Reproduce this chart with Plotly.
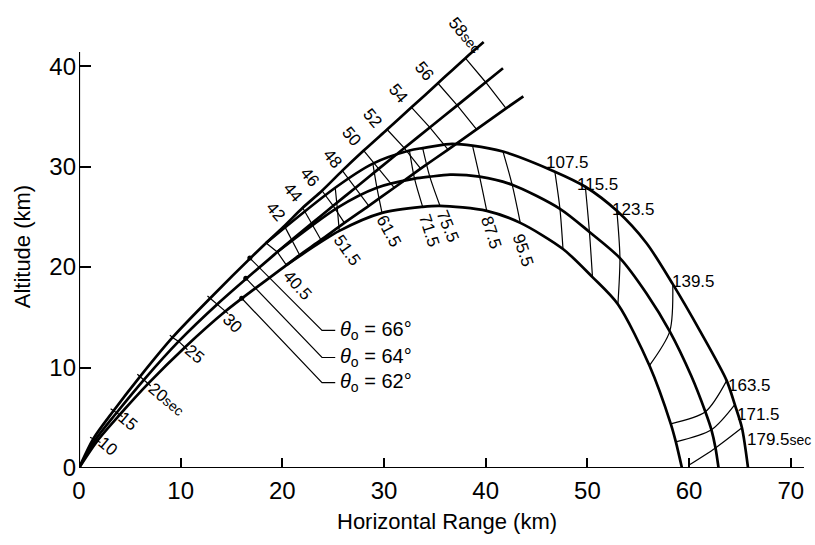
import plotly.graph_objects as go

# ---------------- DATA (km) ----------------
# time marks along the powered ascent and the straight continuation
ASC_TIMES = [10, 15, 20, 25, 30, 40.5, 42, 44, 46, 48, 50, 52, 54, 56, 58]
ASC66_X = [1.4, 3.4, 6.0, 9.2, 12.9, 18.4, 20.2, 22.0, 23.9, 25.9, 28.0, 30.3, 32.7, 35.3, 38.0]
ASC66_Y = [2.9, 5.7, 9.1, 13.0, 16.9, 22.4, 24.1, 25.9, 27.6, 29.6, 31.6, 33.7, 35.9, 38.3, 40.8]
ASC64_X = [1.6, 3.7, 6.4, 9.8, 13.6, 19.5, 20.9, 22.9, 25.0, 27.2, 29.5, 32.0, 34.5, 37.2, 40.0]
ASC64_Y = [2.8, 5.5, 8.8, 12.6, 16.3, 21.5, 22.7, 24.35, 26.1, 27.9, 29.8, 31.85, 33.9, 36.1, 38.4]
ASC62_X = [1.8, 4.0, 6.8, 10.4, 14.4, 20.4, 21.7, 23.8, 26.1, 28.5, 31.0, 33.6, 36.3, 39.1, 42.0]
ASC62_Y = [2.7, 5.3, 8.4, 12.0, 15.6, 20.2, 21.2, 22.7, 24.4, 26.1, 27.9, 29.8, 31.7, 33.7, 35.8]
LINE_END_X = [39.8, 41.7, 43.7]
LINE_END_Y = [42.4, 39.8, 37.0]

# time marks along the ballistic arcs
ARC_TIMES = [51.5, 61.5, 71.5, 75.5, 87.5, 95.5, 107.5, 115.5, 123.5, 139.5, 163.5, 171.5, 179.5]
ARC66_X = [25.2, 28.9, 32.5, 33.8, 38.7, 41.7, 46.8, 49.8, 52.9, 58.4, 63.7, 64.5, 65.2]
ARC66_Y = [27.9, 30.3, 31.6, 31.85, 32.1, 31.5, 29.5, 28.0, 25.6, 18.3, 8.7, 6.3, 4.0]
ARC64_X = [25.4, 29.3, 33.0, 34.5, 39.4, 42.6, 47.3, 50.2, 53.2, 58.1, 61.6, 62.2, 62.6]
ARC64_Y = [25.9, 27.9, 28.8, 29.0, 29.0, 28.2, 25.8, 23.5, 20.9, 13.6, 5.6, 3.8, 2.0]
ARC62_X = [25.6, 29.8, 33.8, 35.5, 40.1, 43.4, 47.6, 50.5, 53.0, 56.1, 58.2, 58.7, 60.0]
ARC62_Y = [23.6, 25.4, 26.0, 26.1, 25.6, 24.4, 21.8, 19.0, 16.3, 10.2, 4.4, 2.6, 0.3]
# additional shape points of the arcs (apex, descent, impact)
ARC66_EXTRA_X = [36.4, 55.8, 61.1, 65.8]
ARC66_EXTRA_Y = [32.25, 22.4, 13.6, 0.0]
ARC64_EXTRA_X = [36.5, 55.8, 60.2, 62.9]
ARC64_EXTRA_Y = [29.2, 17.4, 9.2, 0.0]
ARC62_EXTRA_X = [59.3]
ARC62_EXTRA_Y = [0.0]

ANGLES = ["66", "64", "62"]
POINTER_X = [16.8, 16.4, 16.0]
POINTER_Y = [20.9, 18.9, 16.9]

X_TICKS = [0, 10, 20, 30, 40, 50, 60, 70]
Y_TICKS = [0, 10, 20, 30, 40]

ASC_LABELS = ["10", "15", "20sec", "25", "30", "40.5", "42", "44", "46", "48",
              "50", "52", "54", "56", "58sec"]
ARC_LABELS = ["51.5", "61.5", "71.5", "75.5", "87.5", "95.5", "107.5", "115.5",
              "123.5", "139.5", "163.5", "171.5", "179.5sec"]

# ---------------- label placement ----------------
ASC_LAB_X = [2.85, 4.8, 8.6, 11.4, 15.1, 21.5, 19.3, 21.0, 22.7, 24.9, 26.8, 28.9, 31.4, 34.0, 38.0]
ASC_LAB_Y = [2.1, 4.6, 6.8, 11.3, 14.4, 18.2, 25.5, 27.4, 28.9, 30.8, 33.0, 34.8, 37.3, 39.5, 43.1]
ASC_LAB_ANG = [40, 40, 40, 40, 45, 48, 50, 50, 50, 50, 50, 50, 50, 50, 50]
ARC_LAB_X = [26.4, 30.4, 34.4, 36.2, 40.5, 43.7, 48.0, 51.0, 54.5, 60.4, 65.9, 66.8, 68.8]
ARC_LAB_Y = [21.7, 23.6, 23.6, 24.1, 23.4, 21.7, 30.4, 28.2, 25.7, 18.6, 8.2, 5.3, 2.8]
ARC_LAB_ANG = [55, 62, 72, 68, 72, 72, 0, 0, 0, 0, 0, 0, 0]

FONT = "Liberation Sans"
fig = go.Figure()


def add(x, y, width, shape="spline"):
    fig.add_trace(go.Scatter(x=x, y=y, mode="lines", hoverinfo="skip", showlegend=False,
                             line=dict(color="black", width=width, shape=shape, smoothing=0.8)))


def fmt(label, size):
    if label.endswith("sec"):
        return label[:-3] + f"<span style='font-size:{size - 3}px'>sec</span>"
    return label


asc_x = [ASC66_X, ASC64_X, ASC62_X]
asc_y = [ASC66_Y, ASC64_Y, ASC62_Y]
arc_x = [ARC66_X, ARC64_X, ARC62_X]
arc_y = [ARC66_Y, ARC64_Y, ARC62_Y]
ext_x = [ARC66_EXTRA_X, ARC64_EXTRA_X, ARC62_EXTRA_X]
ext_y = [ARC66_EXTRA_Y, ARC64_EXTRA_Y, ARC62_EXTRA_Y]
burn = ASC_TIMES.index(40.5)

# ascent + straight continuation
for k in range(3):
    add([0] + asc_x[k] + [LINE_END_X[k]], [0] + asc_y[k] + [LINE_END_Y[k]], 2.7)

# ballistic arcs branching at burnout
for k in range(3):
    land = ext_x[k][-1]
    pts = [(x, y) for x, y in zip(arc_x[k], arc_y[k]) if x < land]
    pts += list(zip(ext_x[k], ext_y[k]))
    pts.sort()
    xs = [asc_x[k][burn]] + [p[0] for p in pts]
    ys = [asc_y[k][burn]] + [p[1] for p in pts]
    add(xs, ys, 2.7)

# isochrones across the ascent curves
for i, t in enumerate(ASC_TIMES):
    xs = [asc_x[k][i] for k in range(3)]
    ys = [asc_y[k][i] for k in range(3)]
    if t <= 30:
        dx, dy = xs[2] - xs[0], ys[2] - ys[0]
        n = (dx * dx + dy * dy) ** 0.5
        e = 0.35
        xs = [xs[0] - e * dx / n] + xs + [xs[2] + e * dx / n]
        ys = [ys[0] - e * dy / n] + ys + [ys[2] + e * dy / n]
    add(xs, ys, 1.2, shape="linear")

# isochrones across the arcs
for i, t in enumerate(ARC_TIMES):
    add([arc_x[k][i] for k in range(3)], [arc_y[k][i] for k in range(3)], 1.2)

# theta_0 leaders
TH_Y = [13.7, 11.0, 8.5]
for k in range(3):
    add([25.2, 23.9, POINTER_X[k]], [TH_Y[k], TH_Y[k], POINTER_Y[k]], 1.2, shape="linear")
fig.add_trace(go.Scatter(x=POINTER_X, y=POINTER_Y, mode="markers", hoverinfo="skip",
                         showlegend=False, marker=dict(color="black", size=5)))

# axes drawn as lines
add([0, 71.3], [0, 0], 2.2, shape="linear")
add([0, 0], [0, 41.4], 2.2, shape="linear")

ann = []
for lab, x, y, a in zip(ASC_LABELS, ASC_LAB_X, ASC_LAB_Y, ASC_LAB_ANG):
    ann.append(dict(x=x, y=y, text=fmt(lab, 17), textangle=a, showarrow=False,
                    font=dict(size=17, family=FONT, color="black")))
for lab, x, y, a in zip(ARC_LABELS, ARC_LAB_X, ARC_LAB_Y, ARC_LAB_ANG):
    ann.append(dict(x=x, y=y, text=fmt(lab, 17), textangle=a, showarrow=False,
                    font=dict(size=17, family=FONT, color="black")))
for k in range(3):
    ann.append(dict(x=25.5, y=TH_Y[k], xanchor="left", showarrow=False,
                    text=f"<i>θ</i><sub>o</sub> = {ANGLES[k]}°",
                    font=dict(size=20, family=FONT, color="black")))
ann.append(dict(xref="paper", yref="paper", x=-0.078, y=0.50, xanchor="center",
                yanchor="middle", text="Altitude (km)", textangle=-90, showarrow=False,
                font=dict(size=22, family=FONT, color="black")))
ann.append(dict(xref="paper", yref="paper", x=0.506, y=-0.12, xanchor="center",
                yanchor="middle", text="Horizontal Range (km)",
                showarrow=False, font=dict(size=22, family=FONT, color="black")))

fig.update_layout(
    width=815, height=545, margin=dict(l=79, r=9, t=26, b=77),
    plot_bgcolor="white", paper_bgcolor="white", annotations=ann,
    xaxis=dict(range=[0, 71.5], tickvals=X_TICKS, ticks="inside", ticklen=10, tickwidth=1.5,
               tickcolor="black", showline=False, showgrid=False, zeroline=False,
               ticklabelstandoff=6,
               tickfont=dict(size=24, family=FONT, color="black")),
    yaxis=dict(range=[0, 44], tickvals=Y_TICKS, ticks="inside", ticklen=12, tickwidth=1.5,
               tickcolor="black", showline=False, showgrid=False, zeroline=False,
               ticklabelstandoff=2,
               tickfont=dict(size=24, family=FONT, color="black")),
)
fig.write_html("out.html")
